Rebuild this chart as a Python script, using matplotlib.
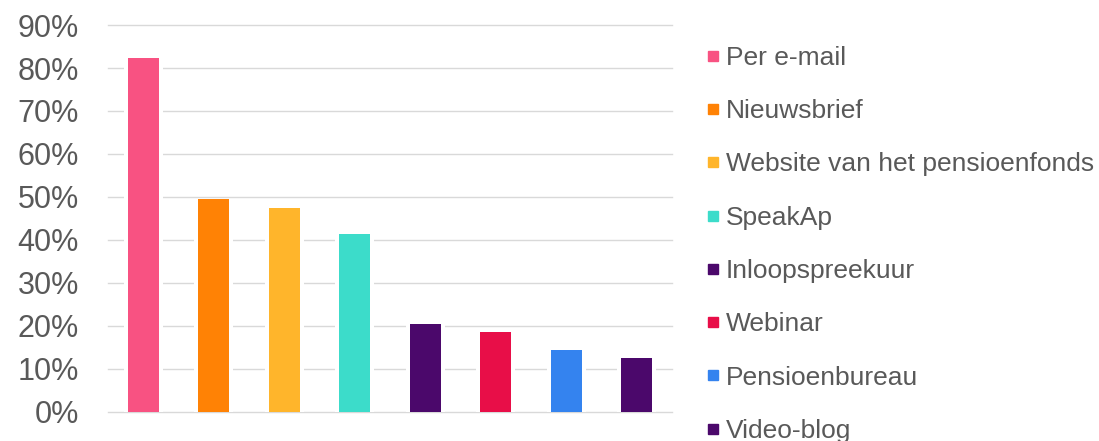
#!/usr/bin/env python3
"""Communication channels bar chart (share of respondents)."""

import matplotlib

matplotlib.use("Agg")
import matplotlib.pyplot as plt
from matplotlib.lines import Line2D
from matplotlib.ticker import PercentFormatter

CHANNELS = [
    "Per e-mail",
    "Nieuwsbrief",
    "Website van het pensioenfonds",
    "SpeakAp",
    "Inloopspreekuur",
    "Webinar",
    "Pensioenbureau",
    "Video-blog",
]
SHARES = [0.824, 0.495, 0.475, 0.415, 0.205, 0.185, 0.145, 0.125]
COLORS = [
    "#F85282",
    "#FF8205",
    "#FFB52B",
    "#3CDCCA",
    "#4B086B",
    "#E80E48",
    "#3483EF",
    "#4B086B",
]
Y_TICKS = [0.0, 0.1, 0.2, 0.3, 0.4, 0.5, 0.6, 0.7, 0.8, 0.9]

TEXT_COLOR = "#595959"
GRID_COLOR = "#D9D9D9"


def main() -> None:
    plt.rcParams["font.family"] = ["Liberation Sans", "DejaVu Sans"]
    fig = plt.figure(figsize=(10.99, 4.41), dpi=100)
    ax = fig.add_axes([0.0983, 0.0658, 0.5132, 0.8775])

    x = list(range(len(CHANNELS)))
    bar_width = 0.44
    gap = 4 / 70.5

    # white halo so the gridlines stop short of each bar
    ax.bar(x, SHARES, width=bar_width + 2 * gap, color="white", zorder=2)
    ax.bar(x, SHARES, width=bar_width, color=COLORS, zorder=3)

    ax.set_xlim(-0.5, len(CHANNELS) - 0.5)
    ax.set_ylim(0, 0.9)
    ax.set_yticks(Y_TICKS)
    ax.yaxis.set_major_formatter(PercentFormatter(1.0, decimals=0))
    ax.set_xticks([])
    ax.tick_params(axis="y", length=0, pad=21, labelsize=22, labelcolor=TEXT_COLOR)
    for spine in ax.spines.values():
        spine.set_visible(False)
    for y in Y_TICKS:
        ax.axhline(y, color=GRID_COLOR, linewidth=1.0, zorder=1, clip_on=False)

    handles = [
        Line2D([], [], marker="s", linestyle="none", markersize=6.5,
               markerfacecolor=c, markeredgecolor=c, label=label)
        for c, label in zip(COLORS, CHANNELS)
    ]
    fig.legend(
        handles=handles,
        loc="upper left",
        bbox_to_anchor=(0.645, 0.896),
        frameon=False,
        fontsize=19,
        labelcolor=TEXT_COLOR,
        handlelength=0.34,
        handletextpad=0.3,
        labelspacing=1.11,
        borderpad=0,
        borderaxespad=0,
    )

    fig.savefig("out.png", dpi=100)
    plt.close(fig)


if __name__ == "__main__":
    main()
